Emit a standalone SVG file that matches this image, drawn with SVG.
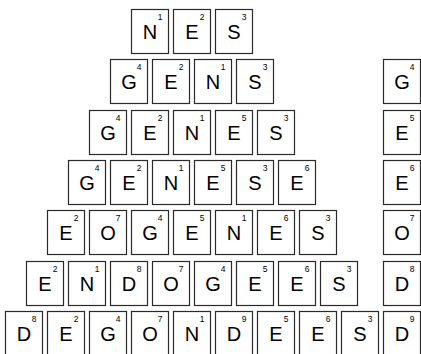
<svg xmlns="http://www.w3.org/2000/svg" width="421" height="354" viewBox="0 0 421 354">
<style>
rect{fill:#fff;stroke:#2a2a2a;stroke-width:1.2}
.l{font-family:"Liberation Sans",Arial,sans-serif;font-size:20px;fill:#000;text-anchor:middle}
.n{font-family:"Liberation Sans",Arial,sans-serif;font-size:8.5px;fill:#000;text-anchor:middle}
</style>
<rect x="0" y="0" width="421" height="354" style="stroke:none"/>
<g id="row1">
<g id="t1-1" transform="translate(131.5,9.5)"><rect width="37" height="44"/><text class="l" x="18.5" y="29.5">N</text><text class="n" x="28.5" y="10">1</text></g>
<g id="t1-2" transform="translate(173.5,9.5)"><rect width="37" height="44"/><text class="l" x="18.5" y="29.5">E</text><text class="n" x="28.5" y="10">2</text></g>
<g id="t1-3" transform="translate(215.5,9.5)"><rect width="37" height="44"/><text class="l" x="18.5" y="29.5">S</text><text class="n" x="28.5" y="10">3</text></g>
</g>
<g id="row2">
<g id="t2-1" transform="translate(110.5,59.5)"><rect width="37" height="44"/><text class="l" x="18.5" y="29.5">G</text><text class="n" x="28.5" y="10">4</text></g>
<g id="t2-2" transform="translate(152.5,59.5)"><rect width="37" height="44"/><text class="l" x="18.5" y="29.5">E</text><text class="n" x="28.5" y="10">2</text></g>
<g id="t2-3" transform="translate(194.5,59.5)"><rect width="37" height="44"/><text class="l" x="18.5" y="29.5">N</text><text class="n" x="28.5" y="10">1</text></g>
<g id="t2-4" transform="translate(236.5,59.5)"><rect width="37" height="44"/><text class="l" x="18.5" y="29.5">S</text><text class="n" x="28.5" y="10">3</text></g>
<g id="t2-r" transform="translate(383.5,59.5)"><rect width="37" height="44"/><text class="l" x="18.5" y="29.5">G</text><text class="n" x="28.5" y="10">4</text></g>
</g>
<g id="row3">
<g id="t3-1" transform="translate(89.5,110.5)"><rect width="37" height="44"/><text class="l" x="18.5" y="29.5">G</text><text class="n" x="28.5" y="10">4</text></g>
<g id="t3-2" transform="translate(131.5,110.5)"><rect width="37" height="44"/><text class="l" x="18.5" y="29.5">E</text><text class="n" x="28.5" y="10">2</text></g>
<g id="t3-3" transform="translate(173.5,110.5)"><rect width="37" height="44"/><text class="l" x="18.5" y="29.5">N</text><text class="n" x="28.5" y="10">1</text></g>
<g id="t3-4" transform="translate(215.5,110.5)"><rect width="37" height="44"/><text class="l" x="18.5" y="29.5">E</text><text class="n" x="28.5" y="10">5</text></g>
<g id="t3-5" transform="translate(257.5,110.5)"><rect width="37" height="44"/><text class="l" x="18.5" y="29.5">S</text><text class="n" x="28.5" y="10">3</text></g>
<g id="t3-r" transform="translate(383.5,110.5)"><rect width="37" height="44"/><text class="l" x="18.5" y="29.5">E</text><text class="n" x="28.5" y="10">5</text></g>
</g>
<g id="row4">
<g id="t4-1" transform="translate(68.5,160.5)"><rect width="37" height="44"/><text class="l" x="18.5" y="29.5">G</text><text class="n" x="28.5" y="10">4</text></g>
<g id="t4-2" transform="translate(110.5,160.5)"><rect width="37" height="44"/><text class="l" x="18.5" y="29.5">E</text><text class="n" x="28.5" y="10">2</text></g>
<g id="t4-3" transform="translate(152.5,160.5)"><rect width="37" height="44"/><text class="l" x="18.5" y="29.5">N</text><text class="n" x="28.5" y="10">1</text></g>
<g id="t4-4" transform="translate(194.5,160.5)"><rect width="37" height="44"/><text class="l" x="18.5" y="29.5">E</text><text class="n" x="28.5" y="10">5</text></g>
<g id="t4-5" transform="translate(236.5,160.5)"><rect width="37" height="44"/><text class="l" x="18.5" y="29.5">S</text><text class="n" x="28.5" y="10">3</text></g>
<g id="t4-6" transform="translate(278.5,160.5)"><rect width="37" height="44"/><text class="l" x="18.5" y="29.5">E</text><text class="n" x="28.5" y="10">6</text></g>
<g id="t4-r" transform="translate(383.5,160.5)"><rect width="37" height="44"/><text class="l" x="18.5" y="29.5">E</text><text class="n" x="28.5" y="10">6</text></g>
</g>
<g id="row5">
<g id="t5-1" transform="translate(47.5,210.5)"><rect width="37" height="44"/><text class="l" x="18.5" y="29.5">E</text><text class="n" x="28.5" y="10">2</text></g>
<g id="t5-2" transform="translate(89.5,210.5)"><rect width="37" height="44"/><text class="l" x="18.5" y="29.5">O</text><text class="n" x="28.5" y="10">7</text></g>
<g id="t5-3" transform="translate(131.5,210.5)"><rect width="37" height="44"/><text class="l" x="18.5" y="29.5">G</text><text class="n" x="28.5" y="10">4</text></g>
<g id="t5-4" transform="translate(173.5,210.5)"><rect width="37" height="44"/><text class="l" x="18.5" y="29.5">E</text><text class="n" x="28.5" y="10">5</text></g>
<g id="t5-5" transform="translate(215.5,210.5)"><rect width="37" height="44"/><text class="l" x="18.5" y="29.5">N</text><text class="n" x="28.5" y="10">1</text></g>
<g id="t5-6" transform="translate(257.5,210.5)"><rect width="37" height="44"/><text class="l" x="18.5" y="29.5">E</text><text class="n" x="28.5" y="10">6</text></g>
<g id="t5-7" transform="translate(299.5,210.5)"><rect width="37" height="44"/><text class="l" x="18.5" y="29.5">S</text><text class="n" x="28.5" y="10">3</text></g>
<g id="t5-r" transform="translate(383.5,210.5)"><rect width="37" height="44"/><text class="l" x="18.5" y="29.5">O</text><text class="n" x="28.5" y="10">7</text></g>
</g>
<g id="row6">
<g id="t6-1" transform="translate(26.5,261.5)"><rect width="37" height="44"/><text class="l" x="18.5" y="29.5">E</text><text class="n" x="28.5" y="10">2</text></g>
<g id="t6-2" transform="translate(68.5,261.5)"><rect width="37" height="44"/><text class="l" x="18.5" y="29.5">N</text><text class="n" x="28.5" y="10">1</text></g>
<g id="t6-3" transform="translate(110.5,261.5)"><rect width="37" height="44"/><text class="l" x="18.5" y="29.5">D</text><text class="n" x="28.5" y="10">8</text></g>
<g id="t6-4" transform="translate(152.5,261.5)"><rect width="37" height="44"/><text class="l" x="18.5" y="29.5">O</text><text class="n" x="28.5" y="10">7</text></g>
<g id="t6-5" transform="translate(194.5,261.5)"><rect width="37" height="44"/><text class="l" x="18.5" y="29.5">G</text><text class="n" x="28.5" y="10">4</text></g>
<g id="t6-6" transform="translate(236.5,261.5)"><rect width="37" height="44"/><text class="l" x="18.5" y="29.5">E</text><text class="n" x="28.5" y="10">5</text></g>
<g id="t6-7" transform="translate(278.5,261.5)"><rect width="37" height="44"/><text class="l" x="18.5" y="29.5">E</text><text class="n" x="28.5" y="10">6</text></g>
<g id="t6-8" transform="translate(320.5,261.5)"><rect width="37" height="44"/><text class="l" x="18.5" y="29.5">S</text><text class="n" x="28.5" y="10">3</text></g>
<g id="t6-r" transform="translate(383.5,261.5)"><rect width="37" height="44"/><text class="l" x="18.5" y="29.5">D</text><text class="n" x="28.5" y="10">8</text></g>
</g>
<g id="row7">
<g id="t7-1" transform="translate(5.5,311.5)"><rect width="37" height="44"/><text class="l" x="18.5" y="29.5">D</text><text class="n" x="28.5" y="10">8</text></g>
<g id="t7-2" transform="translate(47.5,311.5)"><rect width="37" height="44"/><text class="l" x="18.5" y="29.5">E</text><text class="n" x="28.5" y="10">2</text></g>
<g id="t7-3" transform="translate(89.5,311.5)"><rect width="37" height="44"/><text class="l" x="18.5" y="29.5">G</text><text class="n" x="28.5" y="10">4</text></g>
<g id="t7-4" transform="translate(131.5,311.5)"><rect width="37" height="44"/><text class="l" x="18.5" y="29.5">O</text><text class="n" x="28.5" y="10">7</text></g>
<g id="t7-5" transform="translate(173.5,311.5)"><rect width="37" height="44"/><text class="l" x="18.5" y="29.5">N</text><text class="n" x="28.5" y="10">1</text></g>
<g id="t7-6" transform="translate(215.5,311.5)"><rect width="37" height="44"/><text class="l" x="18.5" y="29.5">D</text><text class="n" x="28.5" y="10">9</text></g>
<g id="t7-7" transform="translate(257.5,311.5)"><rect width="37" height="44"/><text class="l" x="18.5" y="29.5">E</text><text class="n" x="28.5" y="10">5</text></g>
<g id="t7-8" transform="translate(299.5,311.5)"><rect width="37" height="44"/><text class="l" x="18.5" y="29.5">E</text><text class="n" x="28.5" y="10">6</text></g>
<g id="t7-9" transform="translate(341.5,311.5)"><rect width="37" height="44"/><text class="l" x="18.5" y="29.5">S</text><text class="n" x="28.5" y="10">3</text></g>
<g id="t7-r" transform="translate(383.5,311.5)"><rect width="37" height="44"/><text class="l" x="18.5" y="29.5">D</text><text class="n" x="28.5" y="10">9</text></g>
</g>
</svg>
